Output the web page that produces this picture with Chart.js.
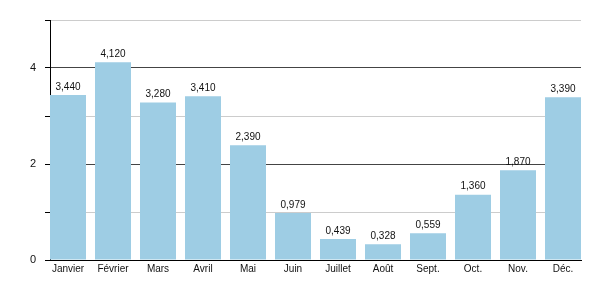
<!DOCTYPE html>
<html>
<head>
<meta charset="utf-8">
<script src="https://cdn.jsdelivr.net/npm/chart.js@4/dist/chart.umd.min.js"></script>
<style>
  html, body { margin: 0; padding: 0; background: #fff; }
  #wrap { width: 600px; height: 300px; }
</style>
</head>
<body>
<div id="wrap"><canvas id="c" width="600" height="300"></canvas></div>
<script>
const months = ["Janvier", "Février", "Mars", "Avril", "Mai", "Juin", "Juillet", "Août", "Sept.", "Oct.", "Nov.", "Déc."];
const values = [3.44, 4.12, 3.28, 3.41, 2.39, 0.979, 0.439, 0.328, 0.559, 1.36, 1.87, 3.39];
const yTicks = [0, 1, 2, 3, 4, 5];
const yLabels = ["0", "", "2", "", "4", ""];

const fontFamily = "'Liberation Sans', Arial, Helvetica, sans-serif";

const labelPlugin = {
  id: 'valueLabels',
  afterDatasetsDraw(chart) {
    const ctx = chart.ctx;
    const meta = chart.getDatasetMeta(0);
    ctx.save();
    ctx.font = "10px " + fontFamily;
    ctx.fillStyle = "#111";
    ctx.textAlign = "center";
    ctx.textBaseline = "bottom";
    meta.data.forEach((bar, i) => {
      const txt = values[i].toFixed(3).replace('.', ',');
      ctx.fillText(txt, bar.x, bar.y - 3);
    });
    ctx.restore();
  }
};

new Chart(document.getElementById('c'), {
  type: 'bar',
  data: {
    datasets: [{
      data: values.map((v, i) => ({ x: i, y: v })),
      backgroundColor: '#9ecde4',
      borderWidth: 0,
      barPercentage: 0.8,
      categoryPercentage: 1.0
    }]
  },
  options: {
    responsive: false,
    animation: false,
    events: [],
    layout: { padding: { top: 20, right: 19, left: 0, bottom: 0 } },
    plugins: { legend: { display: false }, tooltip: { enabled: false } },
    scales: {
      x: {
        type: 'linear',
        offset: false,
        min: -0.4,
        max: 11.4,
        afterBuildTicks(scale) { scale.ticks = months.map((_, i) => ({ value: i })); },
        afterFit(scale) { scale.height = 40; },
        grid: { display: false, drawTicks: false, offset: false },
        border: { display: true, color: '#000', width: 1 },
        ticks: {
          autoSkip: false,
          maxRotation: 0,
          padding: 3,
          color: '#111',
          font: { family: fontFamily, size: 10 },
          callback: (v) => months[v] !== undefined ? months[v] : ''
        }
      },
      y: {
        min: 0,
        max: 5,
        afterBuildTicks(scale) { scale.ticks = yTicks.map(v => ({ value: v })); },
        afterFit(scale) { scale.width = 50; },
        grid: {
          color: (c) => (c.tick && c.tick.value % 2 === 0) ? '#444' : '#cccccc',
          tickColor: '#000',
          tickLength: 5,
          lineWidth: 1
        },
        border: { display: true, color: '#000', width: 1 },
        ticks: {
          padding: 9,
          color: '#111',
          font: { family: fontFamily, size: 11 },
          callback: (v) => { const k = yTicks.indexOf(v); return k >= 0 ? yLabels[k] : ''; }
        }
      }
    }
  },
  plugins: [labelPlugin]
});
</script>
</body>
</html>
